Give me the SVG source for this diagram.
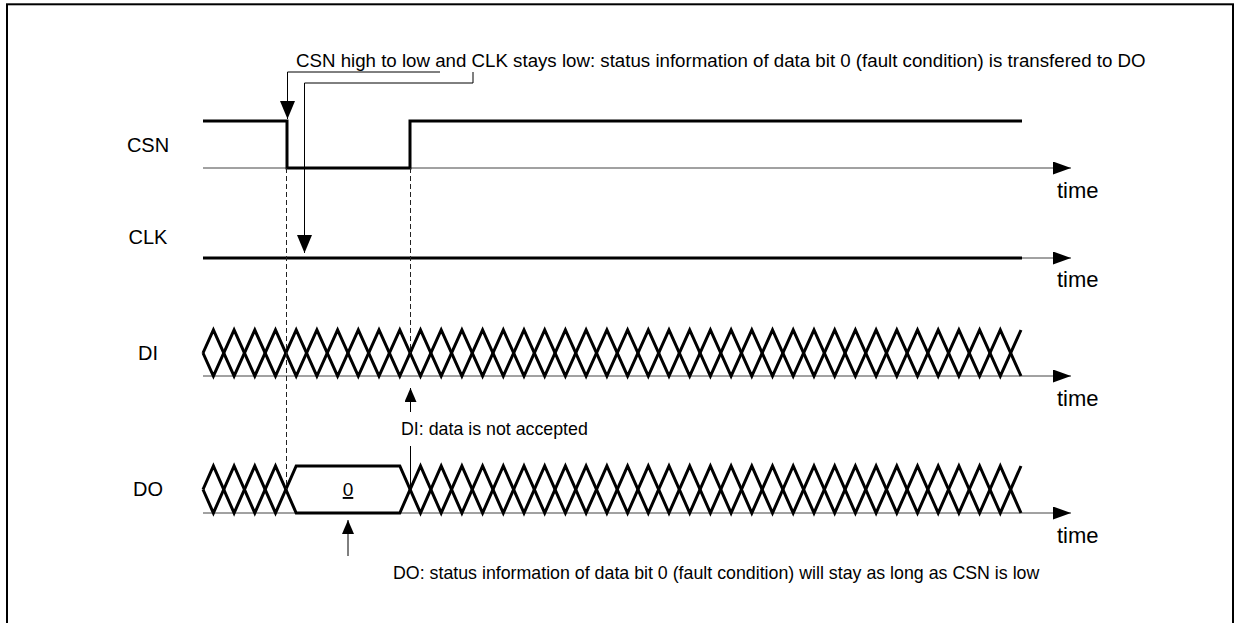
<svg xmlns="http://www.w3.org/2000/svg" width="1239" height="623" viewBox="0 0 1239 623">
<style>
text{font-family:"Liberation Sans",Arial,sans-serif;fill:#000}
.lbl{font-size:20px;text-anchor:middle}
.time{font-size:22px}
.note{font-size:18.7px}
.note2{font-size:17.8px}
.wave{fill:none;stroke:#000;stroke-width:3}
.axis{fill:none;stroke:#444;stroke-width:1}
.dash{fill:none;stroke:#222;stroke-width:1;stroke-dasharray:5 3}
.lead{fill:none;stroke:#000;stroke-width:1}
</style>
<defs>
<marker id="axh" markerUnits="userSpaceOnUse" markerWidth="18" markerHeight="13" refX="18" refY="6.5" orient="auto"><path d="M0,0 L18,6.5 L0,13 z" fill="#000"/></marker>
<marker id="arr" markerUnits="userSpaceOnUse" markerWidth="18" markerHeight="15" refX="18" refY="7.5" orient="auto"><path d="M0,0 L18,7.5 L0,15 z" fill="#000"/></marker>
<marker id="arrs" markerUnits="userSpaceOnUse" markerWidth="14" markerHeight="12" refX="14" refY="6" orient="auto"><path d="M0,0 L14,6 L0,12 z" fill="#000"/></marker>
</defs>
<rect x="7" y="4.3" width="1226" height="640" fill="#fff" stroke="#000" stroke-width="2"/>

<g id="csn">
<text class="lbl" x="148" y="152">CSN</text>
<path class="axis" d="M203,168 H1071" marker-end="url(#axh)"/>
<path class="wave" d="M203,121 H287 V168 H410 V121 H1022"/>
<text class="time" x="1057" y="198">time</text>
</g>

<g id="clk">
<text class="lbl" x="148" y="244">CLK</text>
<path class="axis" d="M203,258 H1071" marker-end="url(#axh)"/>
<path class="wave" d="M203,258 H1022"/>
<text class="time" x="1057" y="287">time</text>
</g>

<g id="di">
<text class="lbl" x="148" y="360">DI</text>
<path class="axis" d="M203,376 H1071" marker-end="url(#axh)"/>
<path class="wave" d="M203,353 L213.4,330 L234.1,376 L254.8,330 L275.5,376 L296.2,330 L316.9,376 L337.6,330 L358.3,376 L379,330 L399.8,376 L420.5,330 L441.2,376 L461.9,330 L482.6,376 L503.3,330 L524,376 L544.7,330 L565.4,376 L586.1,330 L606.9,376 L627.6,330 L648.3,376 L669,330 L689.7,376 L710.4,330 L731.1,376 L751.8,330 L772.5,376 L793.2,330 L814,376 L834.7,330 L855.4,376 L876.1,330 L896.8,376 L917.5,330 L938.2,376 L958.9,330 L979.6,376 L1000.3,330 L1021,376"/>
<path class="wave" d="M203,353 L213.4,376 L234.1,330 L254.8,376 L275.5,330 L296.2,376 L316.9,330 L337.6,376 L358.3,330 L379,376 L399.8,330 L420.5,376 L441.2,330 L461.9,376 L482.6,330 L503.3,376 L524,330 L544.7,376 L565.4,330 L586.1,376 L606.9,330 L627.6,376 L648.3,330 L669,376 L689.7,330 L710.4,376 L731.1,330 L751.8,376 L772.5,330 L793.2,376 L814,330 L834.7,376 L855.4,330 L876.1,376 L896.8,330 L917.5,376 L938.2,330 L958.9,376 L979.6,330 L1000.3,376 L1021,330"/>
<text class="time" x="1057" y="406">time</text>
</g>

<g id="do">
<text class="lbl" x="148" y="496">DO</text>
<path class="axis" d="M203,513 H1071" marker-end="url(#axh)"/>
<path class="wave" d="M203,489.5 L213.4,466 L234.1,513 L254.8,466 L275.5,513 L296.2,466 L399.8,466 L420.5,513 L441.2,466 L461.9,513 L482.6,466 L503.3,513 L524,466 L544.7,513 L565.4,466 L586.1,513 L606.9,466 L627.6,513 L648.3,466 L669,513 L689.7,466 L710.4,513 L731.1,466 L751.8,513 L772.5,466 L793.2,513 L814,466 L834.7,513 L855.4,466 L876.1,513 L896.8,466 L917.5,513 L938.2,466 L958.9,513 L979.6,466 L1000.3,513 L1021,466"/>
<path class="wave" d="M203,489.5 L213.4,513 L234.1,466 L254.8,513 L275.5,466 L296.2,513 L399.8,513 L420.5,466 L441.2,513 L461.9,466 L482.6,513 L503.3,466 L524,513 L544.7,466 L565.4,513 L586.1,466 L606.9,513 L627.6,466 L648.3,513 L669,466 L689.7,513 L710.4,466 L731.1,513 L751.8,466 L772.5,513 L793.2,466 L814,513 L834.7,466 L855.4,513 L876.1,466 L896.8,513 L917.5,466 L938.2,513 L958.9,466 L979.6,513 L1000.3,466 L1021,513"/>
<text x="348" y="496" font-size="19" text-anchor="middle" text-decoration="underline">0</text>
<text class="time" x="1057" y="543">time</text>
</g>

<g id="connectors">
<path class="dash" d="M286.5,168 V489"/>
<path class="dash" d="M410.5,168 V353"/>
<path class="lead" d="M440,72 H287.5 V119" marker-end="url(#arr)"/>
<path class="lead" d="M473,72 V83 H304.5 V253" marker-end="url(#arr)"/>
<path class="lead" d="M410.5,412 V388" marker-end="url(#arrs)"/>
<path class="lead" d="M410.5,446 V489"/>
<path class="lead" d="M348,556 V520" marker-end="url(#arrs)"/>
</g>

<g id="notes">
<text class="note" x="296" y="67">CSN high to low and CLK stays low: status information of data bit 0 (fault condition) is transfered to DO</text>
<text class="note2" x="401" y="435">DI: data is not accepted</text>
<text class="note2" x="393" y="579">DO: status information of data bit 0 (fault condition) will stay as long as CSN is low</text>
</g>
</svg>
